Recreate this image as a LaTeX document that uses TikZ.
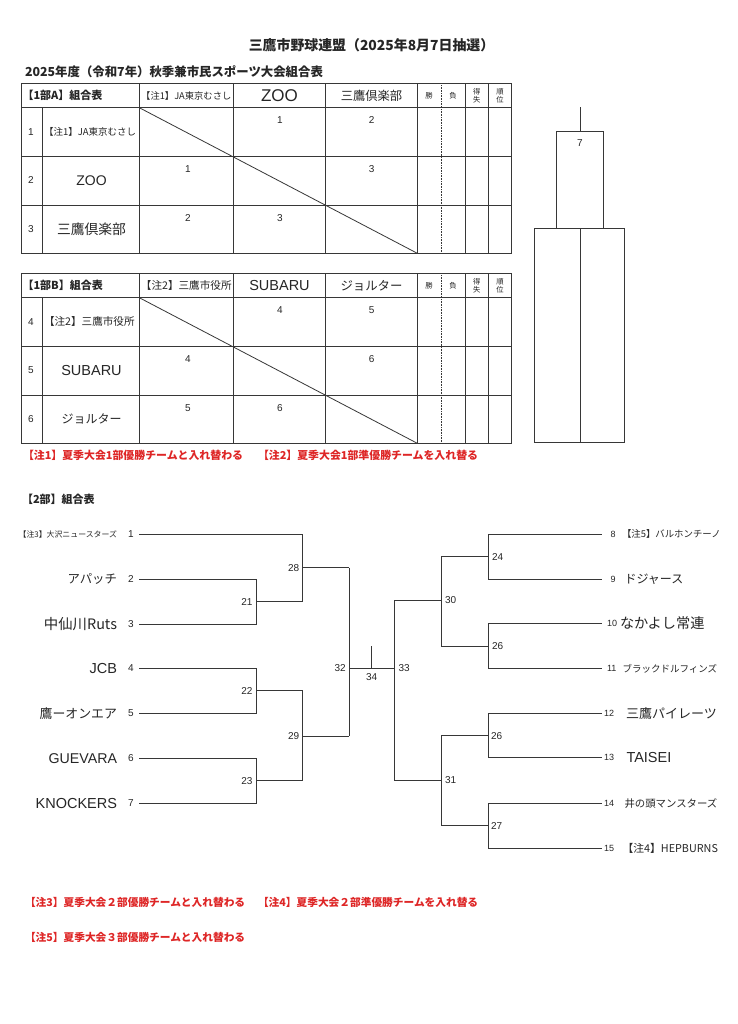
\documentclass[tikz,border=0pt]{standalone}
\usepackage{fontspec}
\usetikzlibrary{calc}
\setmainfont{Noto Sans CJK JP}
\newfontfamily\lat{Liberation Sans}
\definecolor{notered}{RGB}{222,38,38}
\definecolor{ink}{RGB}{55,55,55}
\begin{document}
\begin{tikzpicture}[x=1pt,y=-1pt,
  grid/.style={draw=ink,line width=0.8pt},
  brk/.style={draw=ink,line width=0.8pt},
  txt/.style={inner sep=0pt,outer sep=0pt,text=black!85},
  num/.style={txt,font=\lat\fontsize{10}{10}\selectfont},
  cellnum/.style={txt,font=\lat\fontsize{10}{10}\selectfont},
  note/.style={txt,text=notered,font=\bfseries\fontsize{10.9}{11}\selectfont,anchor=west},
  footnote/.style={txt,text=notered,font=\bfseries\fontsize{10.7}{11}\selectfont,anchor=west},
  tiny/.style={txt,font=\fontsize{7.3}{8}\selectfont,align=center},
  mlbl/.style={txt,font=\lat\fontsize{10}{10}\selectfont}]
\useasboundingbox (0,0) rectangle (737,1024);
\fill[white] (0,0) rectangle (737,1024);

% titles
\node[txt,font=\bfseries\fontsize{13.9}{14}\selectfont] (title) at (371.5,45) {三鷹市野球連盟（2025年8月7日抽選）};
\node[txt,anchor=west,font=\bfseries\fontsize{12.4}{13}\selectfont] (subtitle) at (25,71.7) {2025年度（令和7年）秋季兼市民スポーツ大会組合表};

% ---------- Table A ----------
\begin{scope}
\draw[grid] (21,83.5) rectangle (511.7,253.3);
\draw[grid] (21,107.7) -- (511.7,107.7);
\draw[grid] (42.3,156) -- (511.7,156);
\draw[grid] (42.3,205) -- (511.7,205);
\draw[grid] (21,156) -- (42.3,156);
\draw[grid] (21,205) -- (42.3,205);
\draw[grid] (42.3,107.7) -- (42.3,253.3);
\foreach \xx in {139.3,233.3,325.7,417.3,465,488.3} \draw[grid] (\xx,83.5) -- (\xx,253.3);
\draw[ink,line width=0.6pt,densely dotted] (441,83.5) -- (441,253.3);
\coordinate (adiagA) at (139.3,107.7);
\coordinate (adiagB) at (417.3,253.3);
\draw[grid] (adiagA) -- (adiagB);
\end{scope}
\node[txt,anchor=west,font=\bfseries\fontsize{11}{12}\selectfont] (ahead) at (22.5,95.6) {【1部A】組合表};
\node[txt,font=\fontsize{9.3}{10}\selectfont] (ah1) at (186.3,95.6) {【注1】JA東京むさし};
\node[txt,font=\lat\fontsize{17}{17}\selectfont] (ah2) at (279.5,95.6) {ZOO};
\node[txt,font=\fontsize{12.3}{13}\selectfont] (ah3) at (371.5,95.6) {三鷹倶楽部};
\node[tiny] (ahw) at (429,95.6) {勝};
\node[tiny] (ahl) at (453,95.6) {負};
\node[tiny] (ahs) at (476.7,95.6) {得\\失};
\node[tiny] (ahr) at (500,95.6) {順\\位};
\node[num] (ar1) at (31,131.8) {1};
\node[num] (ar2) at (31,180.5) {2};
\node[num] (ar3) at (31,229.2) {3};
\node[txt,anchor=west,font=\fontsize{9.5}{10}\selectfont] (an1) at (44,131.8) {【注1】JA東京むさし};
\node[txt,font=\lat\fontsize{14}{14}\selectfont] (an2) at (91.5,180.5) {ZOO};
\node[txt,font=\fontsize{13.8}{14}\selectfont] (an3) at (91.5,229.2) {三鷹倶楽部};
\node[cellnum] (ac12) at (280,120) {1};
\node[cellnum] (ac13) at (371.7,120) {2};
\node[cellnum] (ac21) at (188,169.3) {1};
\node[cellnum] (ac23) at (371.7,169.3) {3};
\node[cellnum] (ac31) at (188,217.7) {2};
\node[cellnum] (ac32) at (280,217.7) {3};

% ---------- Table B ----------
\begin{scope}
\draw[grid] (21,273.3) rectangle (511.7,443.3);
\draw[grid] (21,297.7) -- (511.7,297.7);
\draw[grid] (21,346) -- (511.7,346);
\draw[grid] (21,395) -- (511.7,395);
\draw[grid] (42.3,297.7) -- (42.3,443.3);
\foreach \xx in {139.3,233.3,325.7,417.3,465,488.3} \draw[grid] (\xx,273.3) -- (\xx,443.3);
\draw[ink,line width=0.6pt,densely dotted] (441,273.3) -- (441,443.3);
\coordinate (bdiagA) at (139.3,297.7);
\coordinate (bdiagB) at (417.3,443.3);
\draw[grid] (bdiagA) -- (bdiagB);
\end{scope}
\node[txt,anchor=west,font=\bfseries\fontsize{11}{12}\selectfont] (bhead) at (22.5,285.5) {【1部B】組合表};
\node[txt,font=\fontsize{10.6}{11}\selectfont] (bh1) at (186.3,285.5) {【注2】三鷹市役所};
\node[txt,font=\lat\fontsize{14.5}{15}\selectfont] (bh2) at (279.5,285.5) {SUBARU};
\node[txt,font=\fontsize{12.4}{13}\selectfont] (bh3) at (371.5,285.5) {ジョルター};
\node[tiny] (bhw) at (429,285.5) {勝};
\node[tiny] (bhl) at (453,285.5) {負};
\node[tiny] (bhs) at (476.7,285.5) {得\\失};
\node[tiny] (bhr) at (500,285.5) {順\\位};
\node[num] (br4) at (31,321.8) {4};
\node[num] (br5) at (31,370.5) {5};
\node[num] (br6) at (31,419.2) {6};
\node[txt,anchor=west,font=\fontsize{10.6}{11}\selectfont] (bn4) at (44,321.8) {【注2】三鷹市役所};
\node[txt,font=\lat\fontsize{14.5}{15}\selectfont] (bn5) at (91.5,370.5) {SUBARU};
\node[txt,font=\fontsize{12}{13}\selectfont] (bn6) at (91.5,419.2) {ジョルター};
\node[cellnum] (bc45) at (280,310) {4};
\node[cellnum] (bc46) at (371.7,310) {5};
\node[cellnum] (bc54) at (188,359.3) {4};
\node[cellnum] (bc56) at (371.7,359.3) {6};
\node[cellnum] (bc64) at (188,407.7) {5};
\node[cellnum] (bc65) at (280,407.7) {6};

\node[note] (n1) at (23,455) {【注1】夏季大会1部優勝チームと入れ替わる};
\node[note] (n2) at (258,455) {【注2】夏季大会1部準優勝チームを入れ替る};

% ---------- Final box (right) ----------
\coordinate (fstemtop) at (580,107.3);
\coordinate (fstembot) at (580,131.7);
\draw[grid] (fstemtop) -- (fstembot);
\draw[grid] (556.7,131.7) rectangle (603.3,228.3);
\draw[grid] (534,228.3) rectangle (624,442.7);
\coordinate (fmidtop) at (580,228.3);
\coordinate (fmidbot) at (580,442.7);
\draw[grid] (fmidtop) -- (fmidbot);
\node[num] (f7) at (580,143.5) {7};

% ---------- Division 2 bracket ----------
\node[txt,anchor=west,font=\bfseries\fontsize{11}{12}\selectfont] (d2head) at (22,499) {【2部】組合表};

% team line endpoints (left)
\foreach \i/\yy in {1/534.3,2/579,3/624,4/668.3,5/713.3,6/758.3,7/803.3}{
  \coordinate (L\i) at (139,\yy);
}
% team line endpoints (right)
\foreach \i/\yy in {8/534,9/579,10/623.5,11/668.3,12/713.3,13/757.8,14/803.3,15/848.3}{
  \coordinate (R\i) at (601.5,\yy);
}
% left junctions
\coordinate (m21) at (256,601.6);
\coordinate (m22) at (256,690.8);
\coordinate (m23) at (256,780.8);
\coordinate (m28) at (302.8,567.7);
\coordinate (m29) at (302.8,736);
\coordinate (m32) at (349.3,668.3);
% right junctions
\coordinate (m24) at (488,556.7);
\coordinate (m26a) at (488,646);
\coordinate (m26b) at (488,735.6);
\coordinate (m27) at (488,825.8);
\coordinate (m30) at (441,600.5);
\coordinate (m31) at (441,780.5);
\coordinate (m33) at (394.5,668.3);
\coordinate (m34top) at (371.7,646);
\coordinate (m34) at (371.7,668.3);

% left side lines
\draw[brk] (L1) -- (L1 -| m28) -- (m28 |- m21) -- (m21);
\draw[brk] (L2) -- (L2 -| m21) -- (L3 -| m21) -- (L3);
\draw[brk] (L4) -- (L4 -| m22) -- (L5 -| m22) -- (L5);
\draw[brk] (L6) -- (L6 -| m23) -- (L7 -| m23) -- (L7);
\draw[brk] (m28) -- (m28 -| m32);
\draw[brk] (m22) -- (m22 -| m29) -- (m29 |- m23) -- (m23);
\draw[brk] (m29) -- (m29 -| m32);
\draw[brk] (m28 -| m32) -- (m29 -| m32);
% final
\draw[brk] (m32) -- (m33);
\draw[brk] (m34top) -- (m34);
% right side lines
\draw[brk] (R8) -- (R8 -| m24) -- (R9 -| m24) -- (R9);
\draw[brk] (R10) -- (R10 -| m26a) -- (R11 -| m26a) -- (R11);
\draw[brk] (R12) -- (R12 -| m26b) -- (R13 -| m26b) -- (R13);
\draw[brk] (R14) -- (R14 -| m27) -- (R15 -| m27) -- (R15);
\draw[brk] (m24) -- (m24 -| m30) -- (m30 |- m26a) -- (m26a);
\draw[brk] (m26b) -- (m26b -| m31) -- (m31 |- m27) -- (m27);
\draw[brk] (m30) -- (m30 -| m33) -- (m33 |- m31) -- (m31);

% match labels
\node[mlbl,anchor=east] (l21) at (252.5,601.6) {21};
\node[mlbl,anchor=east] (l22) at (252.5,690.8) {22};
\node[mlbl,anchor=east] (l23) at (252.5,780.8) {23};
\node[mlbl,anchor=east] (l28) at (299.3,567.7) {28};
\node[mlbl,anchor=east] (l29) at (299.3,736) {29};
\node[mlbl,anchor=east] (l32) at (345.8,668.3) {32};
\node[mlbl] (l34) at (371.7,677.5) {34};
\node[mlbl,anchor=west] (l33) at (398.5,668.3) {33};
\node[mlbl,anchor=west] (l30) at (445,600.5) {30};
\node[mlbl,anchor=west] (l31) at (445,780.5) {31};
\node[mlbl,anchor=west] (l24) at (492,556.7) {24};
\node[mlbl,anchor=west] (l26a) at (492,646) {26};
\node[mlbl,anchor=west] (l26b) at (491,735.6) {26};
\node[mlbl,anchor=west] (l27) at (491,825.8) {27};

% left team labels
\foreach \i in {1,...,7}{ \node[num] (ln\i) at ($(L\i)+(-8,0)$) {\i}; }
\node[txt,anchor=east,font=\fontsize{7.9}{8}\selectfont] (lt1) at (117,534.3) {【注3】大沢ニュースターズ};
\node[txt,anchor=east,font=\fontsize{12.4}{13}\selectfont] (lt2) at (117,579) {アパッチ};
\node[txt,anchor=east,font=\fontsize{14.4}{15}\selectfont] (lt3) at (117,624) {中仙川Ruts};
\node[txt,anchor=east,font=\lat\fontsize{14.5}{14}\selectfont] (lt4) at (117,668.3) {JCB};
\node[txt,anchor=east,font=\fontsize{12.9}{13}\selectfont] (lt5) at (117,713.3) {鷹ーオンエア};
\node[txt,anchor=east,font=\lat\fontsize{14.2}{14}\selectfont] (lt6) at (117,758.3) {GUEVARA};
\node[txt,anchor=east,font=\lat\fontsize{14.5}{14}\selectfont] (lt7) at (117,803.3) {KNOCKERS};

% right team labels
\node[txt,anchor=west,font=\lat\fontsize{9}{9}\selectfont] (rn8) at (610.5,534) {8};
\node[txt,anchor=west,font=\lat\fontsize{9}{9}\selectfont] (rn9) at (610.5,579) {9};
\node[txt,anchor=west,font=\lat\fontsize{9}{9}\selectfont] (rn10) at (607,623.5) {10};
\node[txt,anchor=west,font=\lat\fontsize{9}{9}\selectfont] (rn11) at (607,668.3) {11};
\node[txt,anchor=west,font=\lat\fontsize{9}{9}\selectfont] (rn12) at (604,713.3) {12};
\node[txt,anchor=west,font=\lat\fontsize{9}{9}\selectfont] (rn13) at (604,757.8) {13};
\node[txt,anchor=west,font=\lat\fontsize{9}{9}\selectfont] (rn14) at (604,803.3) {14};
\node[txt,anchor=west,font=\lat\fontsize{9}{9}\selectfont] (rn15) at (604,848.3) {15};
\node[txt,anchor=west,font=\fontsize{9.4}{10}\selectfont] (rt8) at (622,534) {【注5】バルホンチーノ};
\node[txt,anchor=west,font=\fontsize{12}{13}\selectfont] (rt9) at (624.5,579) {ドジャース};
\node[txt,anchor=west,font=\fontsize{14.2}{15}\selectfont] (rt10) at (620,623.5) {なかよし常連};
\node[txt,anchor=west,font=\fontsize{9.5}{10}\selectfont] (rt11) at (622.5,668.3) {ブラックドルフィンズ};
\node[txt,anchor=west,font=\fontsize{13}{14}\selectfont] (rt12) at (626,713.3) {三鷹パイレーツ};
\node[txt,anchor=west,font=\lat\fontsize{14.5}{14}\selectfont] (rt13) at (626.5,757.8) {TAISEI};
\node[txt,anchor=west,font=\fontsize{10.4}{11}\selectfont] (rt14) at (624.5,803.3) {井の頭マンスターズ};
\node[txt,anchor=west,font=\fontsize{10.8}{11}\selectfont] (rt15) at (622.5,848.3) {【注4】HEPBURNS};

% footnotes
\node[footnote] (n3) at (25,902.7) {【注3】夏季大会２部優勝チームと入れ替わる};
\node[footnote] (n4) at (258,902.7) {【注4】夏季大会２部準優勝チームを入れ替る};
\node[footnote] (n5) at (25,937.3) {【注5】夏季大会３部優勝チームと入れ替わる};
\end{tikzpicture}
\end{document}
